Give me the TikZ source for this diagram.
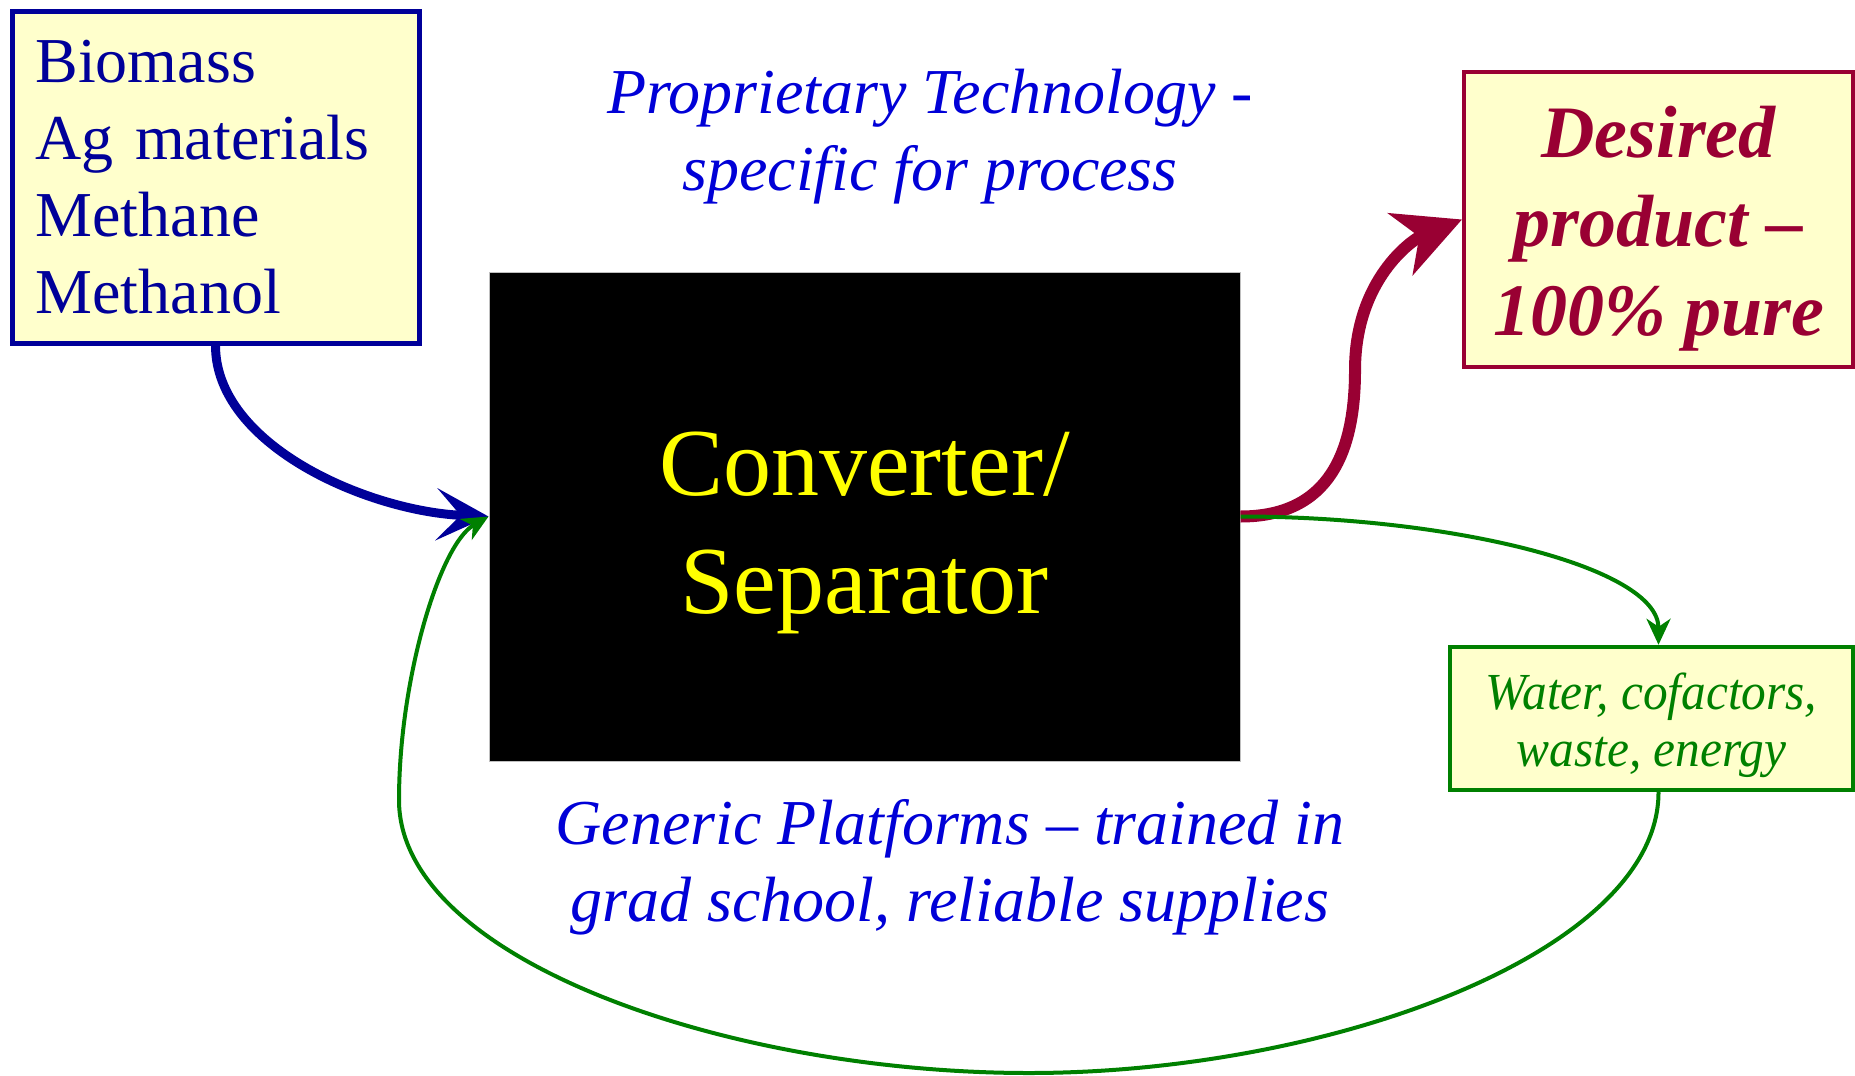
\documentclass[tikz,border=0pt]{standalone}
\usepackage{fontspec}
\setmainfont{Liberation Serif}
\usepackage{graphicx}
\usepackage{tikz}
\usetikzlibrary{arrows.meta}
\definecolor{feedblue}{RGB}{0,0,153}
\definecolor{noteblue}{RGB}{0,0,215}
\definecolor{prodred}{RGB}{153,0,51}
\definecolor{wastegreen}{RGB}{0,128,0}
\definecolor{boxyellow}{RGB}{255,255,204}
\definecolor{convyellow}{RGB}{255,255,0}
\tikzset{
  feedbox/.style={rectangle, draw=feedblue, fill=boxyellow, line width=2.5pt,
    text width=180pt, inner xsep=11.75pt, minimum width=203.5pt,
    minimum height=165.5pt, align=left, text=feedblue,
    font=\fontsize{32}{38.5}\selectfont},
  convbox/.style={rectangle, draw=gray!50, fill=black, line width=0.5pt,
    minimum width=375.5pt, minimum height=244.5pt, align=center,
    text=convyellow, font=\fontsize{48}{59}\selectfont},
  prodbox/.style={rectangle, draw=prodred, fill=boxyellow, line width=2pt,
    minimum width=194.5pt, minimum height=147.5pt, align=center,
    text=prodred, font=\fontsize{37}{44.5}\selectfont\bfseries\itshape},
  wastebox/.style={rectangle, draw=wastegreen, fill=boxyellow, line width=2pt,
    minimum width=201.5pt, minimum height=70.5pt, align=center,
    text=wastegreen, font=\fontsize{26}{28.5}\selectfont\itshape},
  note/.style={align=center, text=noteblue, font=\fontsize{32}{38.5}\selectfont\itshape},
  bluearrow/.style={-{Stealth[length=26pt, width=26pt, inset=12pt]}, line width=4.5pt, color=feedblue},
  redarrow/.style={-{Stealth[length=33pt, width=33pt, inset=10pt]}, line width=6pt, color=prodred},
  greenarrow/.style={-{Stealth[length=13pt, width=12pt, inset=4pt]}, line width=2pt, color=wastegreen}
}

\begin{document}
\begin{tikzpicture}[x=0.5pt, y=-0.5pt]
  \useasboundingbox (0,0) rectangle (1855,1075);

  % Boxes
  \node[feedbox] (feed) at (215.5,177.5) {Biomass\\Ag materials\\Methane\\Methanol};
  \node[convbox] (conv) at (864.5,516.5) {\rule{0pt}{48pt}Converter/\\Separator};
  \node[prodbox] (prod) at (1658.5,219.5) {\rule{0pt}{35pt}Desired\\product --\\100\% pure};
  \node[wastebox] (waste) at (1651.5,718.5)
    {\scalebox{0.95}[1]{\begin{tabular}{@{}c@{}}\rule{0pt}{28pt}Water, cofactors,\\waste, energy\end{tabular}}};

  % Notes
  \node[note] (prop) at (930,137) {Proprietary Technology -\\specific for process};
  \node[note] (generic) at (950,867) {Generic Platforms -- trained in\\grad school, reliable supplies};

  % Feed in
  \draw[bluearrow] (feed.south) .. controls +(0,100) and +(-120,-5) .. (conv.west);

  % Product out
  \draw[redarrow] (conv.east) .. controls +(90,0) and +(0,80) .. (1355,370)
    .. controls +(0,-90) and +(-50,20) .. (prod.west);

  % Side streams and recycle
  \draw[greenarrow] (conv.east) .. controls +(210,0) and +(0,-78) .. ([xshift=3.5pt]waste.north);
  \draw[greenarrow] ([xshift=3.5pt]waste.south) .. controls +(0,160) and +(300,0) .. (1029,1073)
    .. controls +(-300,0) and +(0,160) .. (399,800)
    .. controls +(0,-120) and +(-49,28) .. (conv.west);
\end{tikzpicture}
\end{document}
